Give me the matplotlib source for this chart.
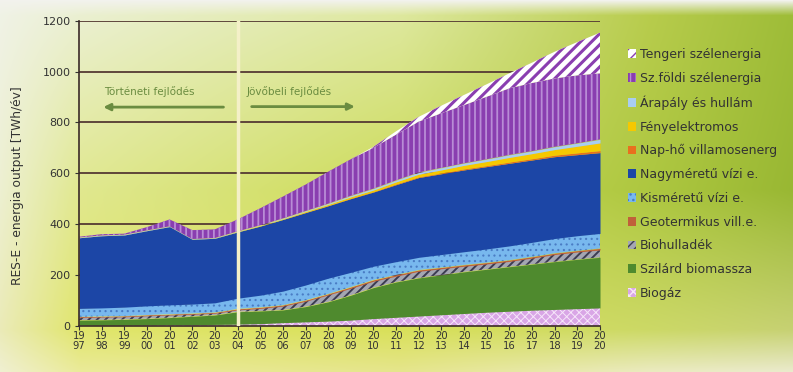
import numpy as np
import matplotlib
matplotlib.use("Agg")
import matplotlib.pyplot as plt
from matplotlib.patches import Patch

plt.rcParams['font.family'] = ['DejaVu Sans']

years = list(range(1997, 2021))
year_labels = [f"{str(y)[:2]}\n{str(y)[2:]}" for y in years]

biogas     = [2, 2, 2, 3, 4, 4, 5, 6, 8, 12, 15, 18, 22, 28, 33, 38, 43, 48, 53, 57, 61, 64, 67, 70]
solid_bio  = [20, 21, 23, 25, 28, 33, 37, 49, 50, 50, 60, 76, 98, 122, 139, 150, 157, 164, 169, 175, 181, 188, 194, 199]
biowaste   = [10, 11, 10, 11, 10, 8, 7, 7, 10, 15, 21, 27, 27, 25, 23, 26, 24, 22, 21, 21, 24, 28, 29, 29]
geothermal = [3, 3, 3, 3, 3, 3, 3, 4, 4, 4, 4, 4, 5, 5, 5, 5, 5, 5, 5, 5, 5, 5, 5, 6]
small_hydro = [33, 33, 35, 36, 37, 37, 38, 42, 48, 55, 60, 62, 58, 54, 52, 50, 51, 52, 54, 56, 57, 58, 59, 59]
large_hydro = [278, 284, 284, 296, 308, 255, 254, 261, 272, 282, 285, 285, 290, 292, 303, 314, 318, 322, 324, 325, 324, 322, 319, 318]
pv         = [0, 0, 0, 0, 0, 0, 0, 1, 2, 2, 3, 4, 5, 6, 8, 10, 12, 14, 16, 18, 20, 22, 26, 30]
solar_th   = [0, 0, 0, 0, 0, 0, 0, 0, 0, 0, 1, 1, 2, 2, 3, 3, 3, 4, 4, 5, 5, 6, 7, 8]
tidal      = [1, 1, 1, 1, 1, 1, 1, 1, 1, 2, 2, 3, 4, 5, 6, 7, 8, 8, 9, 10, 10, 11, 12, 14]
onshore    = [3, 5, 4, 13, 27, 35, 34, 47, 67, 86, 104, 126, 144, 161, 180, 200, 215, 229, 246, 262, 268, 269, 267, 260]
offshore   = [0, 0, 0, 0, 0, 0, 0, 0, 0, 0, 0, 0, 0, 4, 13, 19, 30, 40, 49, 59, 80, 105, 131, 160]

# bottom-to-top stacking order: name, values, face colour, hatch colour, hatch, hatch lw
series = [
    ("Biogáz", biogas, '#d9a6e6', '#f6e6fa', 'xxxx', 0.7),
    ("Szilárd biomassza", solid_bio, '#4f8a2e', '#4f8a2e', None, 0),
    ("Biohulladék", biowaste, '#a4a6b2', '#3c3c52', '////', 1.4),
    ("Geotermikus vill.e.", geothermal, '#c0603a', '#c0603a', None, 0),
    ("Kisméretű vízi e.", small_hydro, '#78b8ee', '#4a7cc4', '...', 0.8),
    ("Nagyméretű vízi e.", large_hydro, '#1c46a6', '#1c46a6', None, 0),
    ("Nap-hő villamosenerg", solar_th, '#e8701e', '#e8701e', None, 0),
    ("Fényelektromos", pv, '#f6c800', '#f6c800', None, 0),
    ("Árapály és hullám", tidal, '#a9cdf2', '#a9cdf2', None, 0),
    ("Sz.földi szélenergia", onshore, '#8a3eb0', '#b98cd6', '|||', 1.3),
    ("Tengeri szélenergia", offshore, '#ffffff', '#8a3eb0', '///', 2.2),
]

W, H = 793, 372
fig = plt.figure(figsize=(W / 100, H / 100), dpi=100)

# background gradient
xs = np.array([0, 80, 400, 650, 793]) / W
ys = np.array([0, 15, 190, 330, 372]) / H
grid = np.array([
    [[0.95, 0.95, 0.93]] * 5,
    [[0.94, 0.95, 0.90], [0.92, 0.94, 0.82], [0.87, 0.91, 0.62], [0.72, 0.80, 0.30], [0.62, 0.74, 0.22]],
    [[0.93, 0.94, 0.82], [0.88, 0.91, 0.56], [0.80, 0.86, 0.35], [0.68, 0.78, 0.25], [0.60, 0.72, 0.20]],
    [[0.92, 0.92, 0.72], [0.88, 0.90, 0.42], [0.85, 0.88, 0.35], [0.80, 0.85, 0.40], [0.78, 0.82, 0.45]],
    [[0.94, 0.94, 0.82], [0.92, 0.92, 0.60], [0.90, 0.90, 0.55], [0.92, 0.92, 0.75], [0.92, 0.92, 0.80]],
])
gx = np.linspace(0, 1, W)
gy = np.linspace(0, 1, H)
img = np.zeros((H, W, 3))
for c in range(3):
    tmp = np.array([np.interp(gx, xs, grid[r, :, c]) for r in range(len(ys))])
    for j in range(W):
        img[:, j, c] = np.interp(gy, ys, tmp[:, j])
bg = fig.add_axes([0, 0, 1, 1], zorder=-10)
bg.imshow(img, aspect='auto', extent=[0, 1, 0, 1], origin='upper')
bg.axis('off')

ax = fig.add_axes([79 / W, 1 - 325.7 / H, 521 / W, 305 / H])
ax.patch.set_alpha(0)

base = np.zeros(len(years))
handles = {}
for name, vals, fc, hc, hatch, hlw in series:
    v = np.array(vals, dtype=float)
    coll = ax.fill_between(years, base, base + v, facecolor=fc, edgecolor=hc,
                           hatch=hatch, linewidth=0, zorder=2)
    if hatch is not None and hasattr(coll, 'set_hatch_linewidth'):
        coll.set_hatch_linewidth(hlw)
    p = Patch(facecolor=fc, edgecolor=hc, hatch=hatch, linewidth=0)
    if hatch is not None and hasattr(p, 'set_hatch_linewidth'):
        p.set_hatch_linewidth(hlw)
    handles[name] = p
    base = base + v

ax.set_xlim(1997, 2020)
ax.set_ylim(0, 1200)
ax.set_yticks(range(0, 1201, 200))
for yv in range(200, 1201, 200):
    ax.axhline(yv, color='#553a33', lw=1.3, zorder=1)
ax.axvline(2004, color='#f4f0c8', lw=2.5, zorder=3)

ax.set_xticks(years)
ax.set_xticklabels(year_labels, fontsize=7.2, color='#333333', linespacing=0.95)
ax.tick_params(axis='x', length=3, width=0.8, color='#333333', pad=1)
ax.tick_params(axis='y', length=3, width=0.8, color='#333333', labelsize=8, labelcolor='#333333', pad=3)
for s in ['top', 'right']:
    ax.spines[s].set_visible(False)
for s in ['left', 'bottom']:
    ax.spines[s].set_color('#3a2a28')
    ax.spines[s].set_linewidth(1.2)
ax.set_ylabel('RES-E - energia output [TWh/év]', fontsize=8.8, color='#333333')
ax.yaxis.set_label_coords(-0.105, 0.46)

green = '#6a8c40'
ax.text(1998.1, 920, 'Történeti fejlődés', fontsize=7.5, color=green, va='center', ha='left')
ax.annotate('', xy=(1997.95, 860), xytext=(2003.5, 860),
            arrowprops=dict(arrowstyle='-|>', color=green, lw=2, mutation_scale=10))
ax.text(2004.4, 920, 'Jövőbeli fejlődés', fontsize=7.5, color=green, va='center', ha='left')
ax.annotate('', xy=(2009.3, 862), xytext=(2004.5, 862),
            arrowprops=dict(arrowstyle='-|>', color=green, lw=2, mutation_scale=10))

order = [s[0] for s in series][::-1]
leg = fig.legend([handles[n] for n in order], order, loc='upper left',
                 bbox_to_anchor=(0.785, 0.885), frameon=False, fontsize=9,
                 handlelength=0.7, handleheight=0.7, handletextpad=0.3,
                 labelspacing=0.86, labelcolor='#333333', borderaxespad=0)

fig.savefig('out.png', dpi=100)
